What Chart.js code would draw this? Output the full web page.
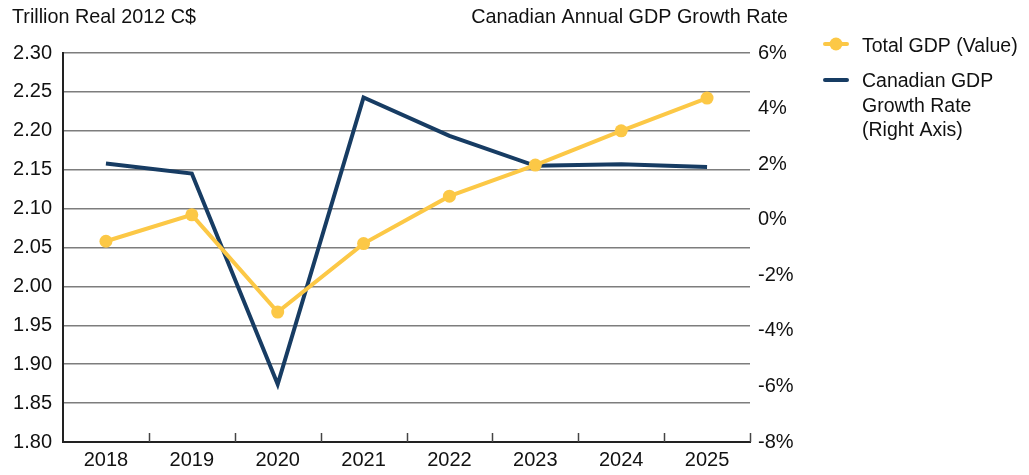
<!DOCTYPE html>
<html lang="en">
<head>
<meta charset="UTF-8">
<title>Canadian GDP</title>
<script src="https://cdn.jsdelivr.net/npm/chart.js"></script>
<style>
    html, body {
        margin: 0;
        padding: 0;
        background: #ffffff;
    }
    #wrap {
        position: relative;
        width: 1029px;
        height: 475px;
    }
</style>
</head>
<body>
<div id="wrap"><canvas id="gdpChart" width="1029" height="475"></canvas></div>
<script>
const years = ['2018', '2019', '2020', '2021', '2022', '2023', '2024', '2025'];
const totalGdp = [2.058, 2.092, 1.967, 2.055, 2.116, 2.156, 2.200, 2.242];
const growthRate = [2.02, 1.66, -5.92, 4.40, 3.02, 1.94, 2.00, 1.90];
const leftTicks = [1.80, 1.85, 1.90, 1.95, 2.00, 2.05, 2.10, 2.15, 2.20, 2.25, 2.30];
const rightTicks = [-8, -6, -4, -2, 0, 2, 4, 6];

const YELLOW = '#fcc846';
const NAVY = '#173c63';
const FONT = '"Liberation Sans", Arial, sans-serif';

// axis titles, inner tick marks on the x axis and the legend box
const decorations = {
    id: 'decorations',
    afterDraw(chart) {
        const { ctx, chartArea, scales } = chart;
        const x = scales.x;
        ctx.save();

        ctx.strokeStyle = '#444';
        ctx.lineWidth = 1.5;
        for (let i = 1; i <= years.length; i++) {
            const px = Math.round(x.getPixelForValue(i - 0.5)) + 0.5;
            ctx.beginPath();
            ctx.moveTo(px, chartArea.bottom);
            ctx.lineTo(px, chartArea.bottom - 9);
            ctx.stroke();
        }

        ctx.fillStyle = '#111';
        ctx.font = '19.8px ' + FONT;
        ctx.textBaseline = 'alphabetic';
        ctx.textAlign = 'left';
        ctx.fillText('Trillion Real 2012 C$', 12, 23);
        ctx.textAlign = 'right';
        ctx.fillText('Canadian Annual GDP Growth Rate', 788, 23);

        // legend
        ctx.lineCap = 'round';
        ctx.strokeStyle = YELLOW;
        ctx.lineWidth = 4;
        ctx.beginPath();
        ctx.moveTo(825, 44);
        ctx.lineTo(847, 44);
        ctx.stroke();
        ctx.fillStyle = YELLOW;
        ctx.beginPath();
        ctx.arc(836, 44, 6.5, 0, Math.PI * 2);
        ctx.fill();

        ctx.strokeStyle = NAVY;
        ctx.beginPath();
        ctx.moveTo(825, 80);
        ctx.lineTo(847, 80);
        ctx.stroke();

        ctx.fillStyle = '#111';
        ctx.font = '19.5px ' + FONT;
        ctx.textAlign = 'left';
        ctx.fillText('Total GDP (Value)', 862, 52);
        ctx.fillText('Canadian GDP', 862, 87);
        ctx.fillText('Growth Rate', 862, 111.5);
        ctx.fillText('(Right Axis)', 862, 136);
        ctx.restore();
    }
};

new Chart(document.getElementById('gdpChart'), {
    type: 'line',
    data: {
        labels: years,
        datasets: [
            {
                label: 'Canadian GDP Growth Rate (Right Axis)',
                data: growthRate,
                yAxisID: 'y1',
                borderColor: NAVY,
                borderWidth: 4,
                pointRadius: 0,
                tension: 0,
                order: 2
            },
            {
                label: 'Total GDP (Value)',
                data: totalGdp,
                yAxisID: 'y',
                borderColor: YELLOW,
                backgroundColor: YELLOW,
                borderWidth: 4,
                pointRadius: 6.5,
                pointBorderWidth: 0,
                tension: 0,
                order: 1
            }
        ]
    },
    options: {
        responsive: false,
        animation: false,
        layout: { padding: { top: 53, left: 0, right: 0, bottom: 0 } },
        plugins: {
            legend: { display: false },
            tooltip: { enabled: false }
        },
        scales: {
            x: {
                offset: true,
                grid: { display: true, drawOnChartArea: false, drawTicks: false },
                border: { display: true, color: '#222', width: 2 },
                ticks: { color: '#111', font: { family: FONT, size: 20 }, padding: 6 },
                afterFit(s) { s.height = 33; s.paddingLeft = 0; s.paddingRight = 0; }
            },
            y: {
                position: 'left',
                min: 1.80,
                max: 2.30,
                afterBuildTicks(s) { s.ticks = leftTicks.map(v => ({ value: v })); },
                grid: { color: '#7d7d7d', lineWidth: 1.5, drawTicks: false },
                border: { display: true, color: '#222', width: 2 },
                ticks: {
                    color: '#111',
                    font: { family: FONT, size: 20 },
                    padding: 11,
                    callback: v => v.toFixed(2)
                },
                afterFit(s) { s.width = 63; s.paddingTop = 0; s.paddingBottom = 0; }
            },
            y1: {
                position: 'right',
                min: -8,
                max: 6,
                afterBuildTicks(s) { s.ticks = rightTicks.map(v => ({ value: v })); },
                grid: { display: false, drawTicks: false },
                border: { display: false },
                ticks: {
                    color: '#111',
                    font: { family: FONT, size: 20 },
                    padding: 8,
                    callback: v => v + '%'
                },
                afterFit(s) { s.width = 279; s.paddingTop = 0; s.paddingBottom = 0; }
            }
        }
    },
    plugins: [decorations]
});
</script>
</body>
</html>
